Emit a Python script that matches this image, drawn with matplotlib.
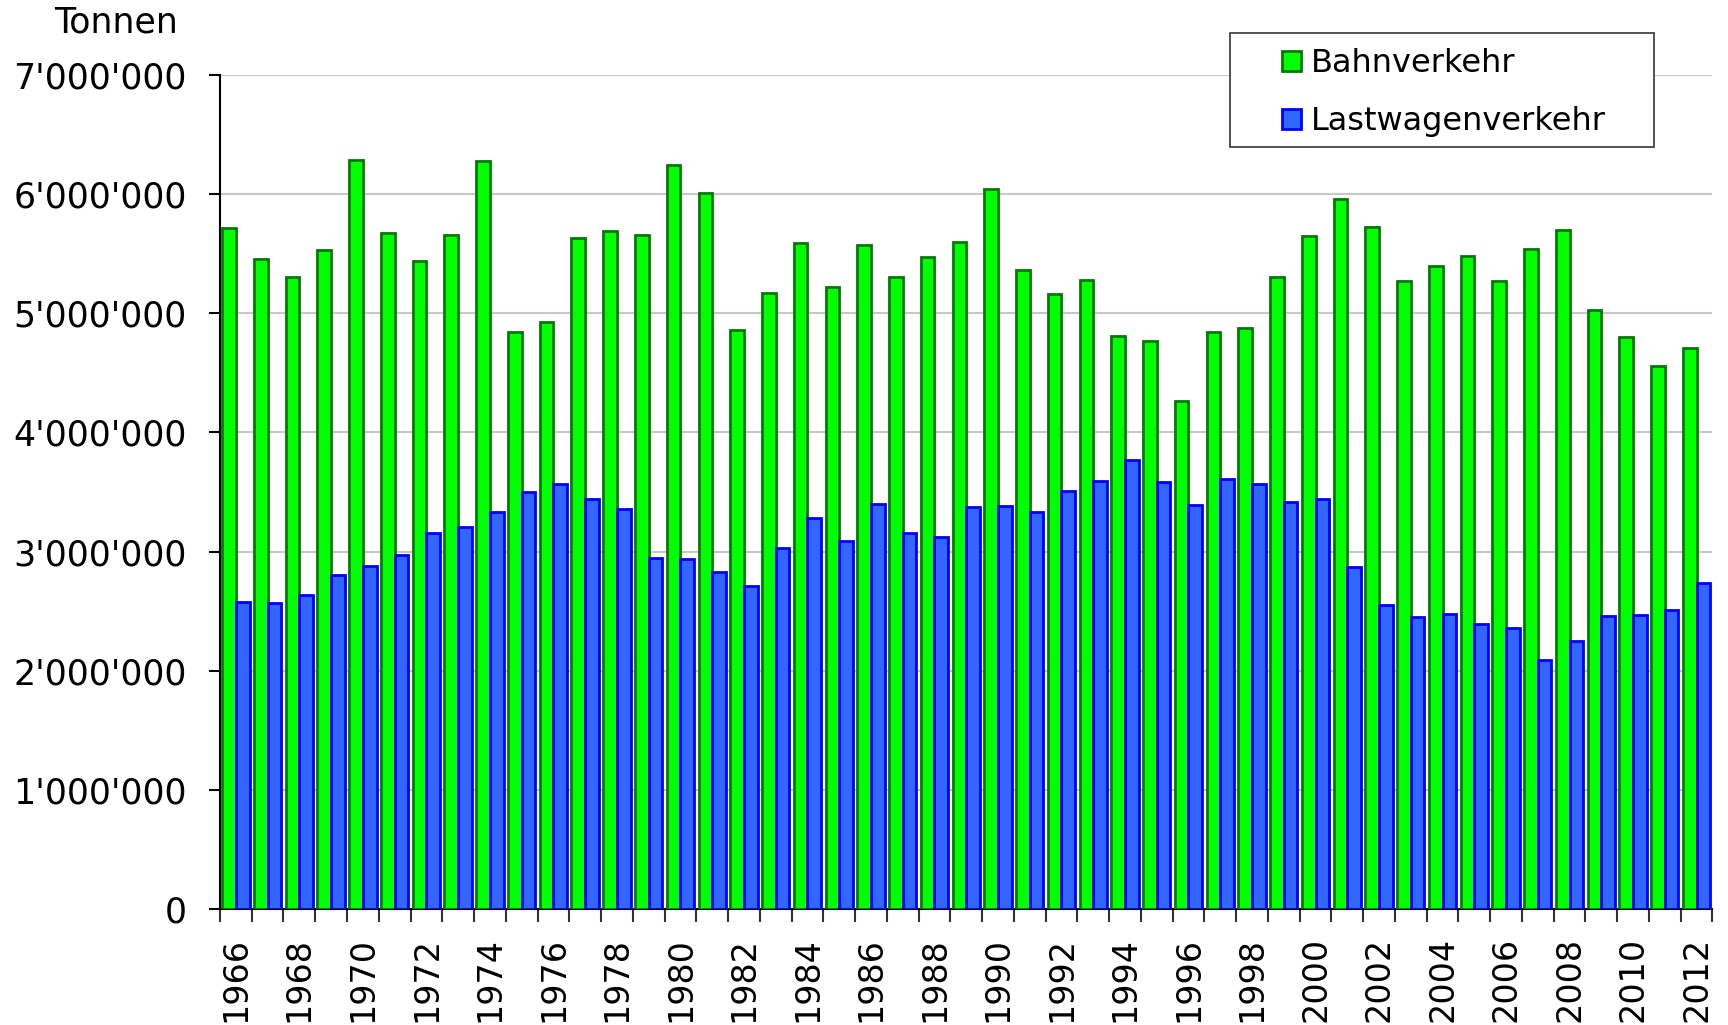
import matplotlib
matplotlib.use("Agg")
import matplotlib.pyplot as plt
import numpy as np
from matplotlib.ticker import FuncFormatter, FixedLocator
from matplotlib.patches import Rectangle

years = list(range(1966, 2013))
bahn = [5.716, 5.457, 5.30, 5.53, 6.288, 5.67, 5.44, 5.66, 6.28, 4.84,
        4.93, 5.63, 5.69, 5.66, 6.24, 6.01, 4.86, 5.17, 5.59, 5.22,
        5.57, 5.30, 5.47, 5.60, 6.04, 5.36, 5.16, 5.28, 4.81, 4.77,
        4.26, 4.84, 4.88, 5.30, 5.65, 5.96, 5.72, 5.27, 5.40, 5.48,
        5.27, 5.54, 5.70, 5.03, 4.80, 4.56, 4.71]
lastwagen = [2.576, 2.567, 2.64, 2.80, 2.88, 2.97, 3.16, 3.21, 3.33, 3.50,
             3.57, 3.44, 3.36, 2.95, 2.94, 2.83, 2.71, 3.03, 3.28, 3.09,
             3.40, 3.16, 3.12, 3.37, 3.38, 3.33, 3.51, 3.59, 3.77, 3.58,
             3.39, 3.61, 3.57, 3.42, 3.44, 2.87, 2.55, 2.45, 2.48, 2.39,
             2.36, 2.09, 2.25, 2.46, 2.47, 2.51, 2.74]
bahn = [v * 1e6 for v in bahn]
lastwagen = [v * 1e6 for v in lastwagen]
series_labels = ["Bahnverkehr", "Lastwagenverkehr"]
y_label = "Tonnen"

plt.rcParams['font.family'] = ['DejaVu Sans']
FS = 23
FSY = 25

fig = plt.figure(figsize=(17.28, 10.25), dpi=100)
ax = fig.add_axes([0.1273, 0.113, 0.991 - 0.1273, 0.927 - 0.113])

x = np.arange(len(years))
w = 0.43
b1 = ax.bar(x - w / 2, bahn, width=w, color='#00ff00', edgecolor='#007a00',
            linewidth=2.0, label=series_labels[0], zorder=3)
b2 = ax.bar(x + w / 2, lastwagen, width=w, color='#3366ff', edgecolor='#0000ff',
            linewidth=2.0, label=series_labels[1], zorder=3)

ax.set_xlim(-0.5, len(years) - 0.5)
ax.set_ylim(0, 7e6)
ax.set_yticks(np.arange(0, 7e6 + 1, 1e6))
ax.yaxis.set_major_formatter(FuncFormatter(lambda v, p: f"{int(round(v)):,}".replace(",", "'")))
ax.grid(axis='y', color='#c8c8c8', linewidth=1.5, zorder=0)
ax.set_axisbelow(True)

label_idx = [i for i, yv in enumerate(years) if (yv - 1966) % 2 == 0]
ax.set_xticks(label_idx)
ax.set_xticklabels([str(years[i]) for i in label_idx], rotation=90, fontsize=FS + 1)
ax.xaxis.set_minor_locator(FixedLocator(np.arange(-0.5, len(years), 1.0)))
ax.tick_params(axis='x', which='major', length=0, pad=20)
ax.tick_params(axis='x', which='minor', length=9, width=1.5, color='#333333')
ax.tick_params(axis='y', which='major', length=8, width=1.5, labelsize=FSY, pad=16)

for s in ['top', 'right']:
    ax.spines[s].set_visible(False)
ax.spines['left'].set_linewidth(1.5)
ax.spines['bottom'].set_linewidth(1.5)

fig.text(0.067, 0.978, y_label, ha='center', va='center', fontsize=FSY)

# legend frame
fig.patches.append(Rectangle((0.712, 0.857), 0.957 - 0.712, 0.968 - 0.857,
                             transform=fig.transFigure, facecolor='white',
                             edgecolor='#444444', linewidth=1.3, zorder=5))
leg = fig.legend(handles=[b1, b2], labels=series_labels, loc='center left',
                 bbox_to_anchor=(0.7324, 0.9095), frameon=False, fontsize=FS,
                 handlelength=0.62, handleheight=0.62, handletextpad=0.3,
                 labelspacing=0.85, borderpad=0)
leg.set_zorder(6)

fig.savefig("out.png", dpi=100)
